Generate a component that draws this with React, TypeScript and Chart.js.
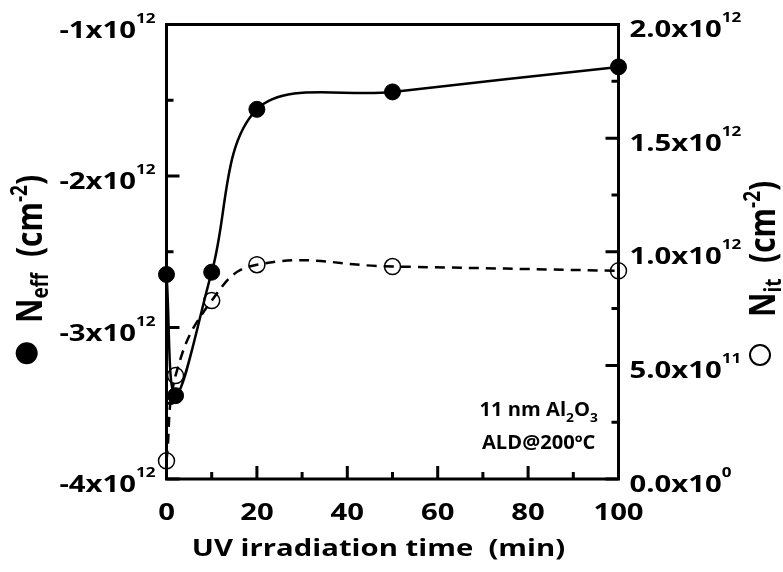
import React, { useEffect, useRef } from "react";
import { Chart, registerables } from "chart.js";

Chart.register(...registerables);

// ---- data ----
const times = [0, 2, 10, 20, 50, 100];
const neffValues = [-2.65e12, -3.45e12, -2.635e12, -1.56e12, -1.445e12, -1.28e12];
const nitValues = [0.08e12, 0.455e12, 0.785e12, 0.943e12, 0.935e12, 0.916e12];

const xMajorTicks = [0, 20, 40, 60, 80, 100];
const xMinorTicks = [10, 30, 50, 70, 90];
const leftMajorTicks = [-1e12, -2e12, -3e12, -4e12];
const leftTickMantissa = ["-1", "-2", "-3", "-4"];
const leftTickExponent = ["12", "12", "12", "12"];
const leftMinorTicks = [-1.5e12, -2.5e12, -3.5e12];
const rightMajorTicks = [0, 0.5e12, 1e12, 1.5e12, 2e12];
const rightTickMantissa = ["0.0", "5.0", "1.0", "1.5", "2.0"];
const rightTickExponent = ["0", "11", "12", "12", "12"];
const rightMinorTicks = [0.25e12, 0.75e12, 1.25e12, 1.75e12];

const xTitle = "UV irradiation time  (min)";
const noteLine1 = ["11 nm Al", "2", "O", "3"];
const noteLine2 = "ALD@200ºC";

const FONT = "'Open Sans'";
const SX = 1.22;

type Part = { t: string; size: number; dy?: number };

function partsWidth(ctx: CanvasRenderingContext2D, parts: Part[]) {
  let w = 0;
  for (const p of parts) {
    ctx.font = `700 ${p.size}px ${FONT}`;
    w += ctx.measureText(p.t).width;
  }
  return w;
}

function drawParts(
  ctx: CanvasRenderingContext2D,
  parts: Part[],
  x: number,
  y: number,
  align: "left" | "center" | "right",
  rot = 0,
  sx = SX
) {
  ctx.save();
  ctx.translate(x, y);
  ctx.scale(sx, 1);
  if (rot) ctx.rotate(rot);
  const w = partsWidth(ctx, parts);
  let cx = align === "left" ? 0 : align === "center" ? -w / 2 : -w;
  ctx.textAlign = "left";
  ctx.textBaseline = "alphabetic";
  ctx.fillStyle = "#000";
  for (const p of parts) {
    ctx.font = `700 ${p.size}px ${FONT}`;
    ctx.fillText(p.t, cx, p.dy || 0);
    cx += ctx.measureText(p.t).width;
  }
  ctx.restore();
}

const framePlugin = {
  id: "framePlugin",
  beforeDraw(chart: any) {
    const ctx = chart.ctx;
    ctx.save();
    ctx.fillStyle = "#fff";
    ctx.fillRect(0, 0, chart.width, chart.height);
    ctx.restore();
  },
  beforeDatasetsDraw(chart: any) {
    const ctx: CanvasRenderingContext2D = chart.ctx;
    const { left, right, top, bottom } = chart.chartArea;
    const sx = chart.scales.x;
    const yl = chart.scales.yL;
    const yr = chart.scales.yR;
    ctx.save();
    ctx.strokeStyle = "#000";
    ctx.lineWidth = 3;
    ctx.lineCap = "square";
    ctx.beginPath();
    ctx.rect(left, top, right - left, bottom - top);
    ctx.stroke();
    ctx.lineCap = "butt";
    ctx.lineWidth = 3;
    const MAJ = 13;
    const MIN = 7;
    ctx.beginPath();
    for (const v of leftMajorTicks) {
      const y = yl.getPixelForValue(v);
      ctx.moveTo(left, y);
      ctx.lineTo(left + MAJ, y);
    }
    for (const v of leftMinorTicks) {
      const y = yl.getPixelForValue(v);
      ctx.moveTo(left, y);
      ctx.lineTo(left + MIN, y);
    }
    for (const v of rightMajorTicks) {
      const y = yr.getPixelForValue(v);
      ctx.moveTo(right, y);
      ctx.lineTo(right - MAJ, y);
    }
    for (const v of rightMinorTicks) {
      const y = yr.getPixelForValue(v);
      ctx.moveTo(right, y);
      ctx.lineTo(right - MIN, y);
    }
    for (const v of xMajorTicks) {
      const x = sx.getPixelForValue(v);
      ctx.moveTo(x, bottom);
      ctx.lineTo(x, bottom - MAJ);
    }
    for (const v of xMinorTicks) {
      const x = sx.getPixelForValue(v);
      ctx.moveTo(x, bottom);
      ctx.lineTo(x, bottom - MIN);
    }
    ctx.stroke();
    ctx.restore();
  },
  afterDraw(chart: any) {
    const ctx: CanvasRenderingContext2D = chart.ctx;
    const { left, right, bottom } = chart.chartArea;
    const sx = chart.scales.x;
    const yl = chart.scales.yL;
    const yr = chart.scales.yR;
    // left tick labels
    leftMajorTicks.forEach((v, i) => {
      const y = yl.getPixelForValue(v);
      drawParts(
        ctx,
        [
          { t: leftTickMantissa[i] + "x10", size: 24 },
          { t: leftTickExponent[i], size: 14, dy: -15 },
        ],
        left - 11,
        y + 13,
        "right"
      );
    });
    // right tick labels
    rightMajorTicks.forEach((v, i) => {
      const y = yr.getPixelForValue(v);
      drawParts(
        ctx,
        [
          { t: rightTickMantissa[i] + "x10", size: 24 },
          { t: rightTickExponent[i], size: 14, dy: -15 },
        ],
        right + 11,
        y + 12.5,
        "left"
      );
    });
    // x tick labels
    xMajorTicks.forEach((v) => {
      const x = sx.getPixelForValue(v);
      drawParts(ctx, [{ t: String(v), size: 24 }], x, bottom + 41, "center");
    });
    // x title
    drawParts(ctx, [{ t: xTitle, size: 24 }], 378.5, 556, "center");
    // annotation
    drawParts(
      ctx,
      [
        { t: noteLine1[0], size: 19 },
        { t: noteLine1[1], size: 13, dy: 6 },
        { t: noteLine1[2], size: 19 },
        { t: noteLine1[3], size: 13, dy: 6 },
      ],
      538.7,
      416,
      "center",
      0,
      1.06
    );
    drawParts(ctx, [{ t: noteLine2, size: 19 }], 538.7, 449.3, "center", 0, 1.06);

    // left y title
    drawParts(
      ctx,
      [
        { t: "N", size: 30 },
        { t: "eff", size: 19, dy: 5 },
        { t: "  (cm", size: 30 },
        { t: "-2", size: 19, dy: -12 },
        { t: ")", size: 30 },
      ],
      42,
      323,
      "left",
      -Math.PI / 2
    );
    ctx.save();
    ctx.fillStyle = "#000";
    ctx.beginPath();
    ctx.arc(26.7, 353.3, 11, 0, Math.PI * 2);
    ctx.fill();
    ctx.restore();

    // right y title
    drawParts(
      ctx,
      [
        { t: "N", size: 30 },
        { t: "it", size: 19, dy: 5 },
        { t: "  (cm", size: 30 },
        { t: "-2", size: 19, dy: -12 },
        { t: ")", size: 30 },
      ],
      775,
      317,
      "left",
      -Math.PI / 2
    );
    ctx.save();
    ctx.strokeStyle = "#000";
    ctx.lineWidth = 2;
    ctx.beginPath();
    ctx.arc(760, 355, 10, 0, Math.PI * 2);
    ctx.stroke();
    ctx.restore();
  },
};

export default function App() {
  const ref = useRef<HTMLCanvasElement | null>(null);
  useEffect(() => {
    if (!ref.current) return;
    const chart = new Chart(ref.current, {
      type: "line",
      data: {
        datasets: [
          {
            label: "Neff",
            data: times.map((t, i) => ({ x: t, y: neffValues[i] })),
            yAxisID: "yL",
            borderColor: "#000",
            borderWidth: 2.5,
            pointRadius: 8,
            pointBackgroundColor: "#000",
            pointBorderColor: "#000",
            pointBorderWidth: 1,
            tension: 0.35,
            fill: false,
            clip: false as any,
          },
          {
            label: "Nit",
            data: times.map((t, i) => ({ x: t, y: nitValues[i] })),
            yAxisID: "yR",
            borderColor: "#000",
            borderWidth: 2.5,
            borderDash: [10, 7],
            pointRadius: 8,
            pointBackgroundColor: "rgba(0,0,0,0)",
            pointBorderColor: "#000",
            pointBorderWidth: 1.5,
            tension: 0.45,
            fill: false,
            clip: false as any,
          },
        ],
      },
      options: {
        animation: false,
        responsive: true,
        maintainAspectRatio: false,
        layout: { padding: { left: 166.5, right: 164.5, top: 24.5, bottom: 93 } },
        plugins: { legend: { display: false }, tooltip: { enabled: false } },
        scales: {
          x: { type: "linear", min: 0, max: 100, display: false },
          yL: { type: "linear", position: "left", min: -4e12, max: -1e12, display: false },
          yR: { type: "linear", position: "right", min: 0, max: 2e12, display: false },
        },
      },
      plugins: [framePlugin],
    });
    return () => chart.destroy();
  }, []);
  return (
    <div style={{ position: "absolute", left: 0, top: 0, width: 783, height: 572 }}>
      <canvas ref={ref} />
    </div>
  );
}
